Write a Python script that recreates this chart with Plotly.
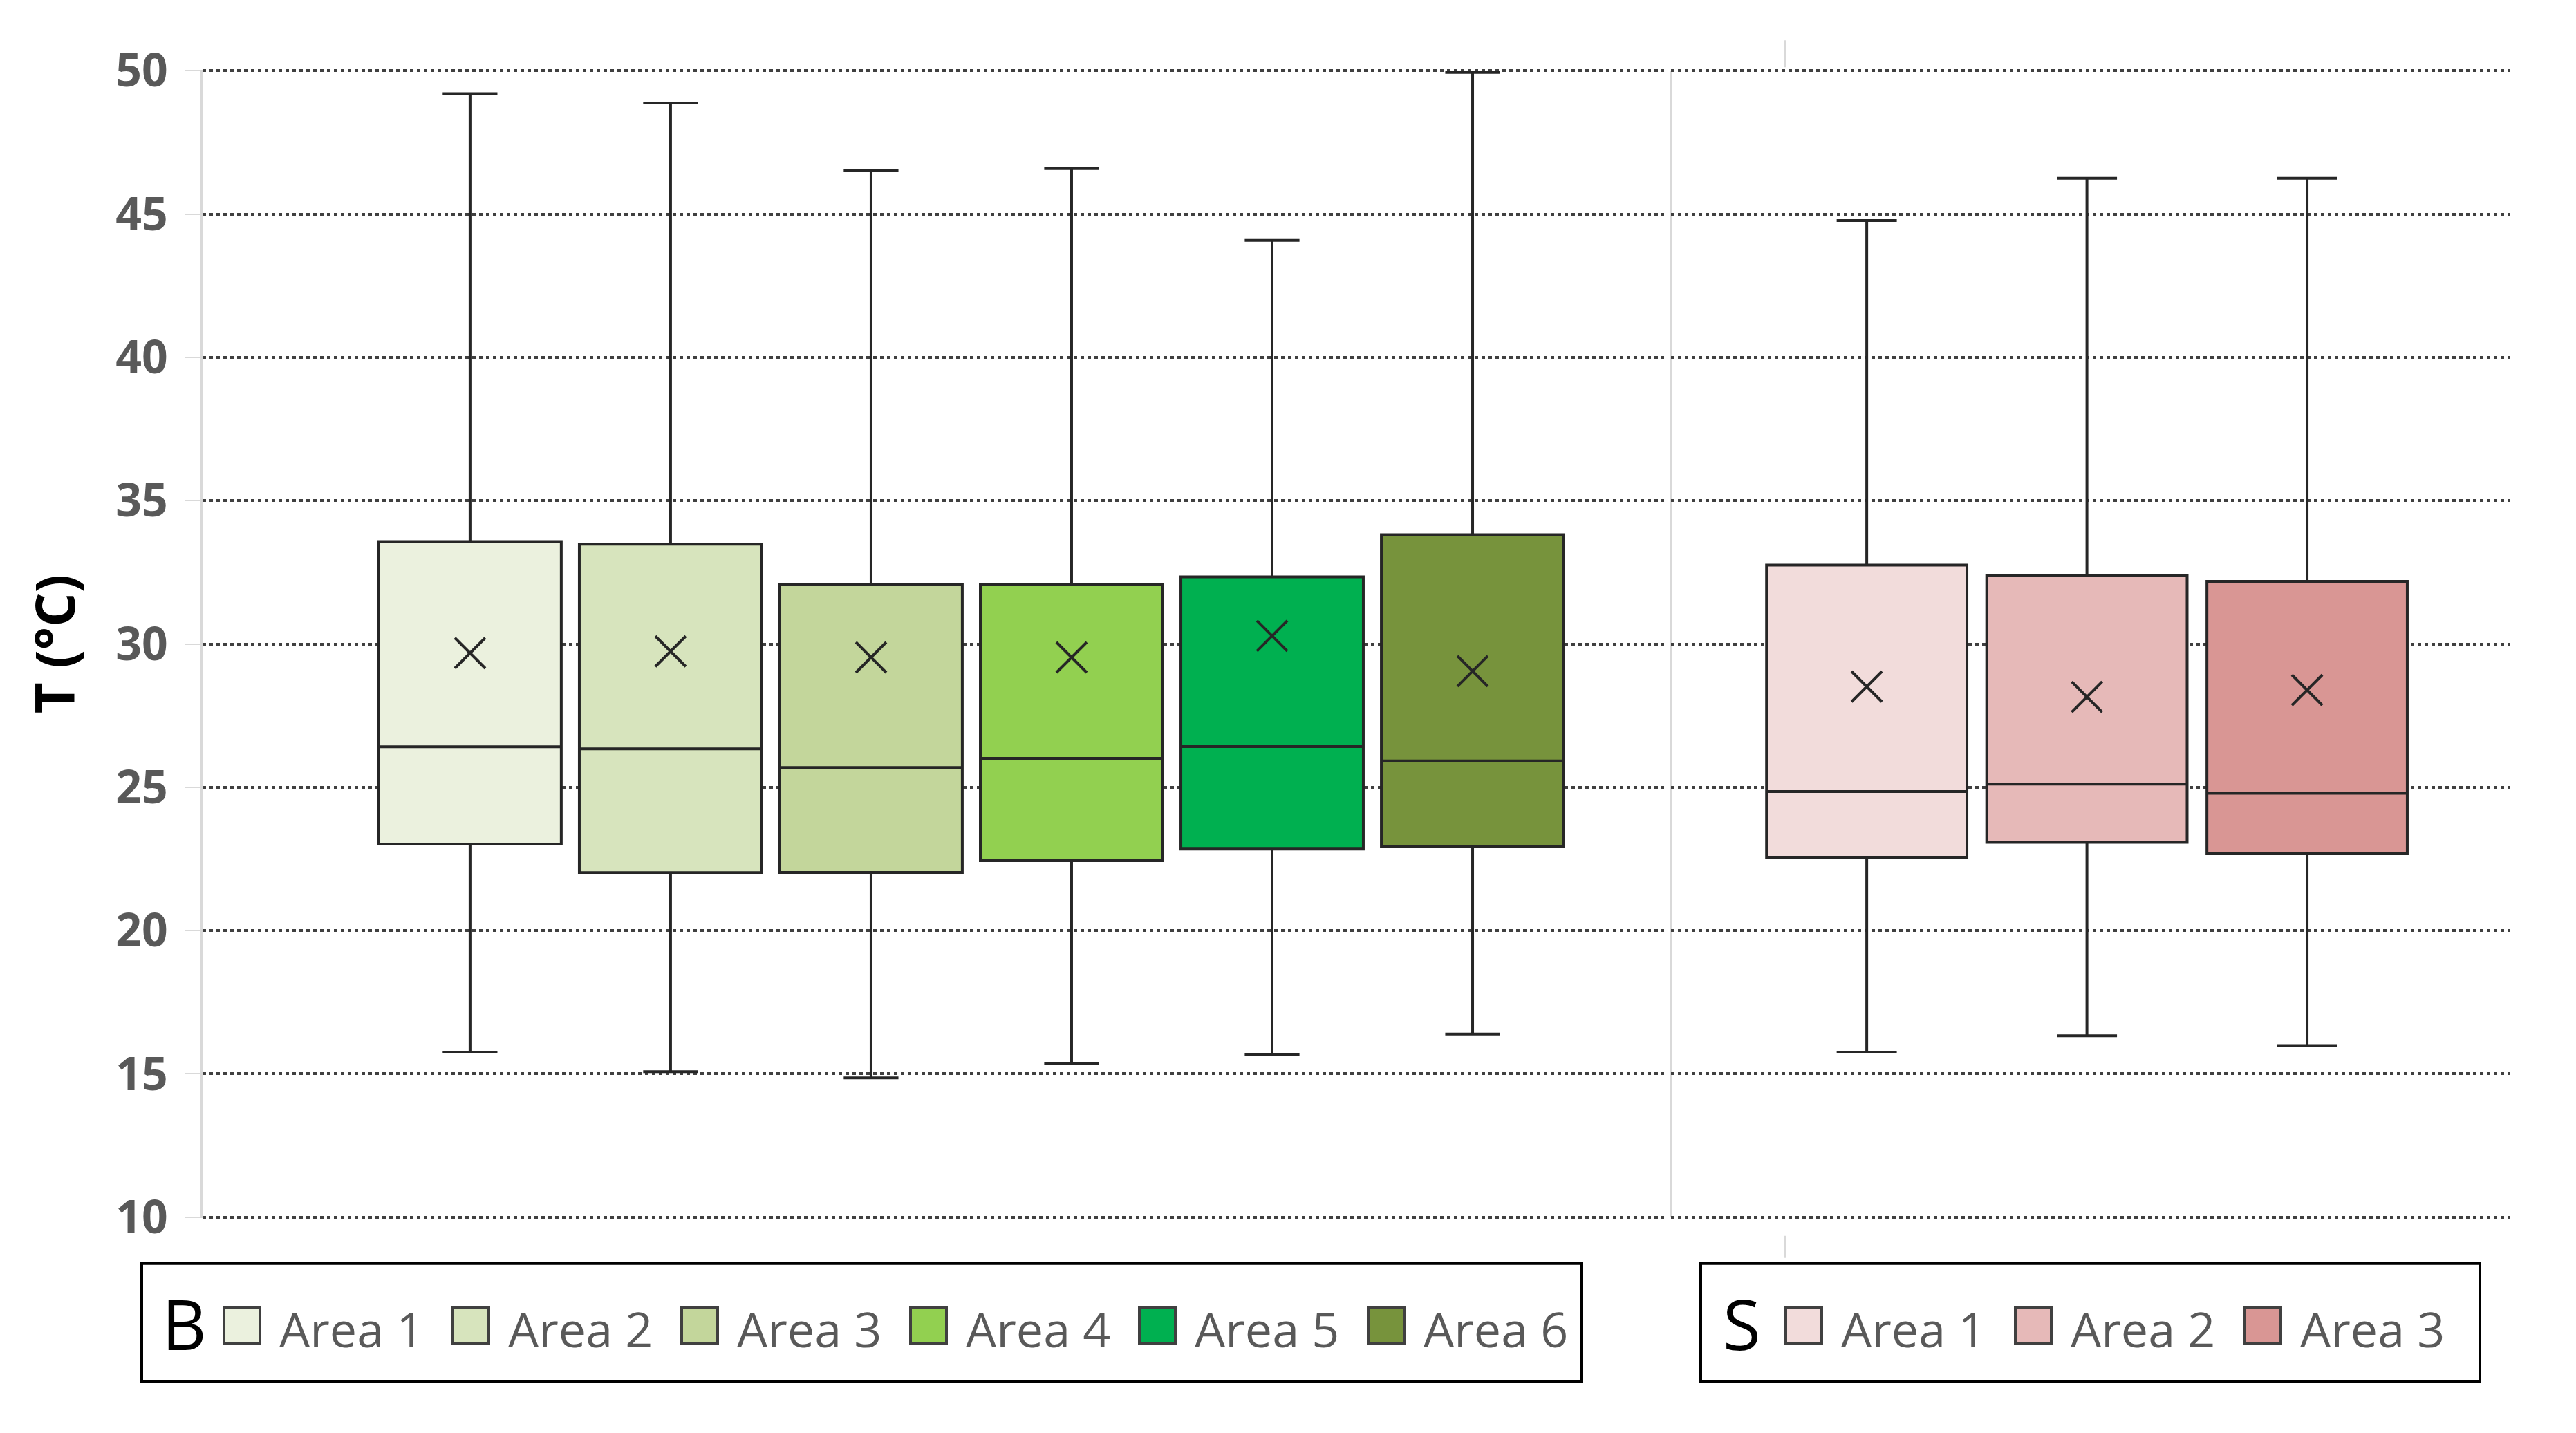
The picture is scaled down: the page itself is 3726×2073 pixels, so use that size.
import plotly.graph_objects as go

# canvas / plot-area pixel geometry (Excel-style composite of two charts)
W, H = 3726, 2073
BODY = 8  # default page margin around the plotly div
PLOT_L, PLOT_R, PLOT_T, PLOT_B = 293, 3631, 102, 1761
B_END, S_START = 2407, 2417
Y_PAD = 0.03  # tiny range padding so the 10 / 50 gridlines get drawn

EDGE = "#262626"
GRID = "#404040"
AXIS_GRAY = "#D9D9D9"
TEXT_GRAY = "#595959"

# B group
b_names = ["Area 1", "Area 2", "Area 3", "Area 4", "Area 5", "Area 6"]
b_colors = ["#EBF1DE", "#D7E4BD", "#C3D69B", "#92D050", "#00B050", "#77933C"]
b_upper = [49.20, 48.87, 46.51, 46.59, 44.08, 49.94]
b_q3 = [33.57, 33.48, 32.08, 32.08, 32.34, 33.81]
b_median = [26.41, 26.34, 25.69, 26.01, 26.42, 25.92]
b_q1 = [23.02, 22.02, 22.03, 22.44, 22.84, 22.92]
b_lower = [15.76, 15.08, 14.86, 15.35, 15.67, 16.39]
b_mean = [29.68, 29.74, 29.53, 29.53, 30.28, 29.05]

# S group
s_names = ["Area 1", "Area 2", "Area 3"]
s_colors = ["#F2DCDB", "#E6B9B8", "#D99694"]
s_upper = [44.77, 46.25, 46.25]
s_q3 = [32.75, 32.40, 32.18]
s_median = [24.85, 25.11, 24.79]
s_q1 = [22.54, 23.08, 22.68]
s_lower = [15.76, 16.33, 15.99]
s_mean = [28.51, 28.15, 28.39]

y_ticks = [10, 15, 20, 25, 30, 35, 40, 45, 50]

PX_PER_UNIT = (PLOT_B - PLOT_T) / 40.0
PAD_PX = Y_PAD * PX_PER_UNIT


def px(x):
    """pixel x -> paper x"""
    return (x - PLOT_L) / (PLOT_R - PLOT_L)


def py(y):
    """pixel y -> paper y (paper spans the padded plot area)"""
    return (PLOT_B + PAD_PX - y) / (PLOT_B - PLOT_T + 2 * PAD_PX)


def add_group(fig, names, colors, q1, med, q3, lo, hi, mean, xaxis):
    for i, name in enumerate(names):
        fig.add_trace(go.Box(
            x=[i], q1=[q1[i]], median=[med[i]], q3=[q3[i]],
            lowerfence=[lo[i]], upperfence=[hi[i]],
            name=name, fillcolor=colors[i],
            line=dict(color=EDGE, width=4),
            width=0.91, whiskerwidth=0.3, boxpoints=False,
            xaxis=xaxis, yaxis="y", showlegend=False,
        ))
    fig.add_trace(go.Scatter(
        x=list(range(len(names))), y=mean, mode="markers",
        marker=dict(symbol="x-thin", size=44, color=EDGE, line=dict(color=EDGE, width=4)),
        xaxis=xaxis, yaxis="y", showlegend=False, hoverinfo="y",
    ))


def add_legend(letter, letter_x, names, colors, box_x0, box_x1, sq_x0, step):
    shapes, annots = [], []
    shapes.append(dict(type="rect", xref="paper", yref="paper",
                       x0=px(box_x0), x1=px(box_x1), y0=py(1999), y1=py(1828),
                       line=dict(color="black", width=4), fillcolor="white"))
    annots.append(dict(text=letter, x=px(letter_x), y=py(1914), xref="paper", yref="paper",
                       xanchor="center", yanchor="middle", showarrow=False,
                       font=dict(family="Open Sans", size=100, color="black")))
    for i, (name, col) in enumerate(zip(names, colors)):
        x0 = sq_x0 + step * i
        shapes.append(dict(type="rect", xref="paper", yref="paper",
                           x0=px(x0), x1=px(x0 + 52), y0=py(1944), y1=py(1892),
                           line=dict(color="#404040", width=4), fillcolor=col))
        annots.append(dict(text=name, x=px(x0 + 78), y=py(1922), xref="paper", yref="paper",
                           xanchor="left", yanchor="middle", showarrow=False,
                           font=dict(family="Open Sans", size=70, color=TEXT_GRAY)))
    return shapes, annots


fig = go.Figure()
add_group(fig, b_names, b_colors, b_q1, b_median, b_q3, b_lower, b_upper, b_mean, "x")
add_group(fig, s_names, s_colors, s_q1, s_median, s_q3, s_lower, s_upper, s_mean, "x2")

shapes, annots = [], []
sh, an = add_legend("B", 266, b_names, b_colors, 205, 2287, 324, 331)
shapes += sh
annots += an
sh, an = add_legend("S", 2519, s_names, s_colors, 2460, 3587, 2583, 332)
shapes += sh
annots += an

# divider between the two panels and small leftover axis stubs
shapes.append(dict(type="line", xref="paper", yref="paper", x0=px(2417), x1=px(2417),
                   y0=py(PLOT_B), y1=py(PLOT_T), line=dict(color=AXIS_GRAY, width=4), layer="below"))
for y0, y1 in [(58, 97), (1788, 1820)]:
    shapes.append(dict(type="line", xref="paper", yref="paper", x0=px(2582), x1=px(2582),
                       y0=py(y0), y1=py(y1), line=dict(color=AXIS_GRAY, width=3)))

FW, FH = W - 2 * BODY, H - 2 * BODY
fig.update_layout(
    width=FW, height=FH,
    margin=dict(l=PLOT_L - BODY, r=(W - BODY) - PLOT_R,
                t=PLOT_T - BODY - PAD_PX, b=(H - BODY) - PLOT_B - PAD_PX),
    paper_bgcolor="white", plot_bgcolor="white",
    showlegend=False,
    boxmode="overlay",
    shapes=shapes, annotations=annots,
    xaxis=dict(domain=[0, px(B_END)], range=[-1.334, 5.955], type="linear",
               showgrid=False, zeroline=False, showticklabels=False, showline=False),
    xaxis2=dict(domain=[px(S_START), 1], range=[-0.889, 2.923], type="linear", anchor="y",
                showgrid=False, zeroline=False, showticklabels=False, showline=False),
    yaxis=dict(
        range=[10 - Y_PAD, 50 + Y_PAD], tickvals=y_ticks, ticktext=[str(v) for v in y_ticks],
        showgrid=True, gridcolor=GRID, gridwidth=4, griddash="5px,5px",
        zeroline=False, showline=True, linecolor=AXIS_GRAY, linewidth=4,
        ticks="outside", ticklen=21, tickcolor=AXIS_GRAY, tickwidth=2,
        ticklabelstandoff=12,
        tickfont=dict(family="Open Sans", size=66, color=TEXT_GRAY, weight="bold"),
        title=dict(text="T (°C)", standoff=34,
                   font=dict(family="Open Sans", size=78, color="black", weight="bold")),
    ),
)

fig.write_html("out.html")
